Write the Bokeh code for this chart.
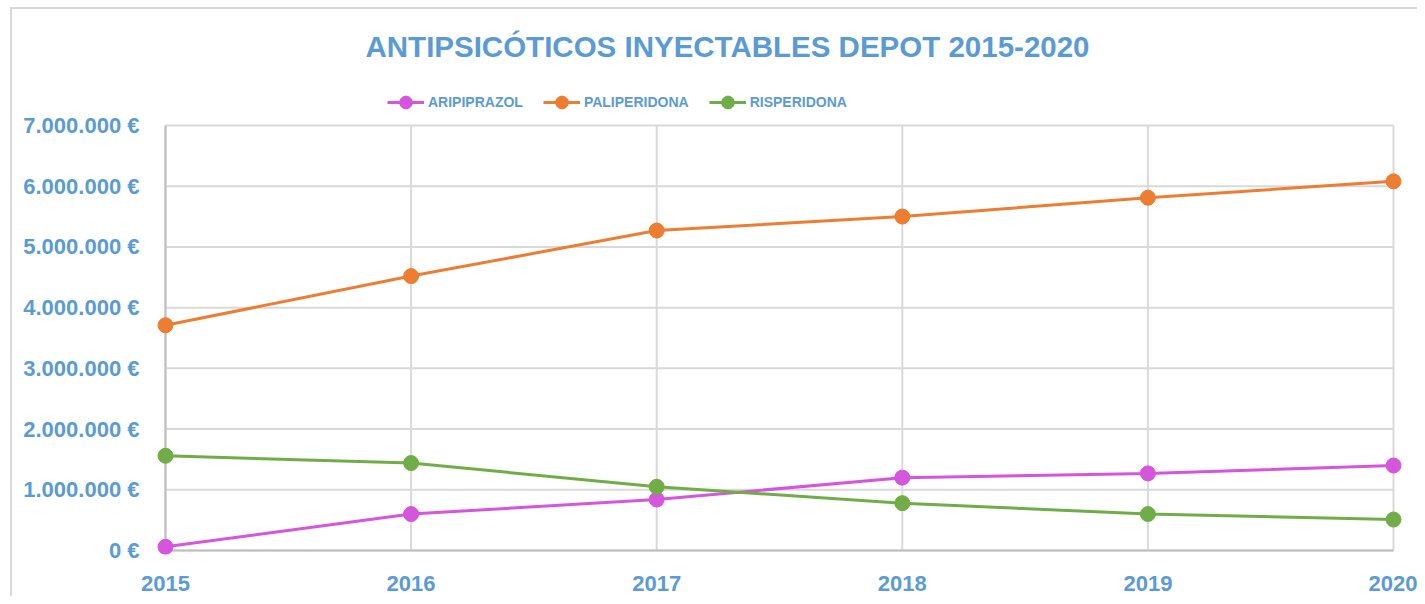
from bokeh.plotting import figure
from bokeh.models import FixedTicker, Legend, LegendItem, Range1d
from bokeh.embed import file_html
from bokeh.resources import INLINE

# ---- data ----
years = [2015, 2016, 2017, 2018, 2019, 2020]
year_labels = ["2015", "2016", "2017", "2018", "2019", "2020"]
aripiprazol = [60000, 600000, 840000, 1200000, 1270000, 1400000]
paliperidona = [3710000, 4520000, 5270000, 5500000, 5810000, 6080000]
risperidona = [1560000, 1440000, 1050000, 780000, 600000, 510000]
y_ticks = [0, 1000000, 2000000, 3000000, 4000000, 5000000, 6000000, 7000000]
y_tick_labels = ["0 €", "1.000.000 €", "2.000.000 €", "3.000.000 €",
                 "4.000.000 €", "5.000.000 €", "6.000.000 €", "7.000.000 €"]
series_names = ["ARIPIPRAZOL", "PALIPERIDONA", "RISPERIDONA"]
series_colors = ["#D655DD", "#ED7D31", "#70AD47"]
title_text = "ANTIPSICÓTICOS INYECTABLES DEPOT 2015-2020"

FONT = "Liberation Sans"
BLUE = "#5B9BD5"
GRID = "#D9D9D9"
AXIS = "#BFBFBF"

p = figure(width=1417, height=596, output_backend="svg", toolbar_location=None,
           x_range=Range1d(2014.9634, 2020.0366),
           y_range=Range1d(-65900, 7576500),
           min_border_left=156, min_border_right=15, min_border_bottom=42,
           min_border_top=90)
p.outline_line_color = None
p.border_fill_color = None
p.background_fill_color = "white"
# outer chart border (left and top edges) drawn as page background
p.styles = {
    "background-color": "white",
    "background-image": "linear-gradient(#D9D9D9, #D9D9D9), linear-gradient(#D9D9D9, #D9D9D9)",
    "background-size": "2px 100%, 100% 2px",
    "background-position": "10px 7px, 10px 7px",
    "background-repeat": "no-repeat",
}

p.title.text = title_text
p.title.text_font = FONT
p.title.text_font_size = "29.5px"
p.title.text_font_style = "bold"
p.title.text_color = BLUE
p.title.align = "left"
p.title.offset = 209
p.title.standoff = 55

p.xaxis.ticker = FixedTicker(ticks=years)
p.xaxis.major_label_overrides = {y: l for y, l in zip(years, year_labels)}
p.yaxis.ticker = FixedTicker(ticks=y_ticks)
p.yaxis.major_label_overrides = {t: l for t, l in zip(y_ticks, y_tick_labels)}
for ax in (p.xaxis, p.yaxis):
    ax.major_label_text_font = FONT
    ax.major_label_text_font_style = "bold"
    ax.major_label_text_font_size = "22px"
    ax.major_label_text_color = BLUE
    ax.axis_line_color = None
    ax.major_tick_line_color = None
    ax.minor_tick_line_color = None
p.yaxis.major_label_standoff = 11
p.xaxis.major_label_standoff = 15

p.xgrid.visible = False
p.ygrid.visible = False
# gridlines limited to the plot area (2015-2020, 0-7M)
p.segment(x0=years, y0=y_ticks[0], x1=years, y1=y_ticks[-1], line_color=GRID, line_width=2)
p.segment(x0=years[0], y0=y_ticks, x1=years[-1], y1=y_ticks, line_color=GRID, line_width=2)
# axis lines along 2015 and 0
p.segment(x0=years[0], y0=y_ticks[0], x1=years[0], y1=y_ticks[-1], line_color=AXIS, line_width=2)
p.segment(x0=years[0], y0=y_ticks[0], x1=years[-1], y1=y_ticks[0], line_color=AXIS, line_width=2)

items = []
for name, vals, col in zip(series_names, [aripiprazol, paliperidona, risperidona], series_colors):
    ln = p.line(years, vals, line_color=col, line_width=3)
    sc = p.scatter(years, vals, size=15, fill_color=col, line_color=col)
    items.append(LegendItem(label=name, renderers=[ln, sc]))

legend = Legend(items=items, orientation="horizontal", location=(231, 436),
                border_line_color=None, background_fill_alpha=0,
                glyph_width=37, glyph_height=32, label_standoff=4, spacing=20,
                padding=0, margin=0,
                label_text_font=FONT, label_text_font_style="bold",
                label_text_font_size="14px", label_text_color=BLUE)
p.add_layout(legend, "center")

open("out.html", "w").write(file_html(p, INLINE))
